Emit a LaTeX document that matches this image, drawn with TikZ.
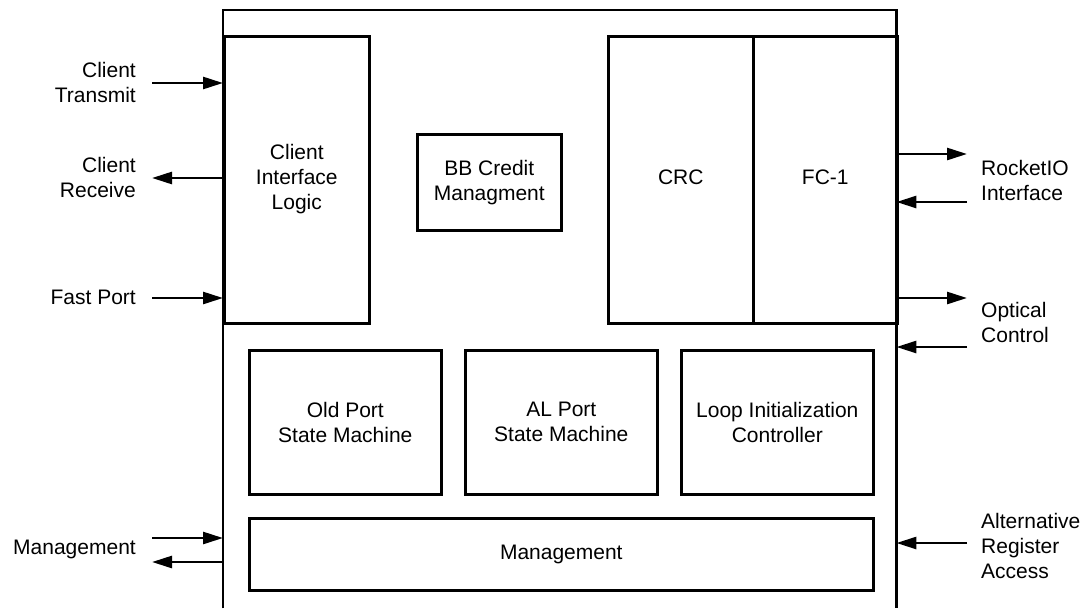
\documentclass[tikz,border=0pt]{standalone}
\usepackage{fontspec}
\setmainfont{Liberation Sans}
\usetikzlibrary{arrows.meta}

\begin{document}
\begin{tikzpicture}[x=1pt,y=-1pt,
  font=\fontsize{21}{25}\selectfont,
  blk/.style={draw,line width=2.6pt,align=center,inner sep=0pt,anchor=north west},
  sig/.style={line width=2.6pt,-{Triangle[length=20pt,width=12pt]}},
  lbl/.style={inner sep=0pt}]
  \useasboundingbox (0,0) rectangle (1086,608);
  %%% the core, open at the bottom
  \node[minimum width=673,minimum height=598,inner sep=0pt,anchor=north west] (core) at (223,10) {};
  \draw[line width=2.6pt] (core.south west) -- (core.north west) -- (core.north east) -- (core.south east);
  %%% blocks of the upper row
  \node[blk,minimum width=145,minimum height=287] (cil) at (223,35) {\raisebox{4pt}{\begin{tabular}{@{}c@{}}Client\\Interface\\Logic\end{tabular}}};
  \node[blk,minimum width=144,minimum height=96] (bbc) at (416,133) {BB Credit\\Managment};
  \node[blk,minimum width=145,minimum height=287] (crc) at (607,35) {\raisebox{6pt}{CRC}};
  \node[blk,minimum width=144,minimum height=287] (fc1) at (752,35) {\raisebox{6pt}{FC-1}};
  %%% state machines
  \node[blk,minimum width=192,minimum height=144] (olds) at (248,349) {Old Port\\State Machine};
  \node[blk,minimum width=192,minimum height=144] (alps) at (464,349) {AL Port\\State Machine};
  \node[blk,minimum width=192,minimum height=144] (lic) at (680,349) {Loop Initialization\\Controller};
  \node[blk,minimum width=624,minimum height=72] (mgmt) at (248,517) {Management};
  %%% left side signals
  \node[lbl,anchor=east,align=right] (ctx) at (136,82) {Client\\Transmit};
  \node[lbl,anchor=east,align=right] (crx) at (136,177) {Client\\Receive};
  \node[lbl,anchor=east,align=right] (fport) at (136,297) {Fast Port};
  \node[lbl,anchor=east,align=right] (mgl) at (136,549) {Management};
  \coordinate (ctxa) at (152,83);
  \coordinate (crxa) at (152,178);
  \coordinate (fporta) at (152,298);
  \coordinate (mgina) at (152,538);
  \coordinate (mgouta) at (152,562);
  \draw[sig] (ctxa) -- (ctxa -| core.west);
  \draw[sig] (crxa -| core.west) -- (crxa);
  \draw[sig] (fporta) -- (fporta -| core.west);
  \draw[sig] (mgina) -- (mgina -| core.west);
  \draw[sig] (mgouta -| core.west) -- (mgouta);
  %%% right side signals
  \node[lbl,anchor=west,align=left] (rio) at (981,180) {RocketIO\\Interface};
  \node[lbl,anchor=west,align=left] (optc) at (981,322) {Optical\\Control};
  \node[lbl,anchor=west,align=left] (areg) at (981,546) {Alternative\\Register\\Access};
  \coordinate (rioouta) at (967,154);
  \coordinate (rioina) at (967,202);
  \coordinate (optouta) at (967,298);
  \coordinate (optina) at (967,347);
  \coordinate (aregina) at (967,543);
  \draw[sig] (rioouta -| core.east) -- (rioouta);
  \draw[sig] (rioina) -- (rioina -| core.east);
  \draw[sig] (optouta -| core.east) -- (optouta);
  \draw[sig] (optina) -- (optina -| core.east);
  \draw[sig] (aregina) -- (aregina -| core.east);
\end{tikzpicture}
\end{document}
